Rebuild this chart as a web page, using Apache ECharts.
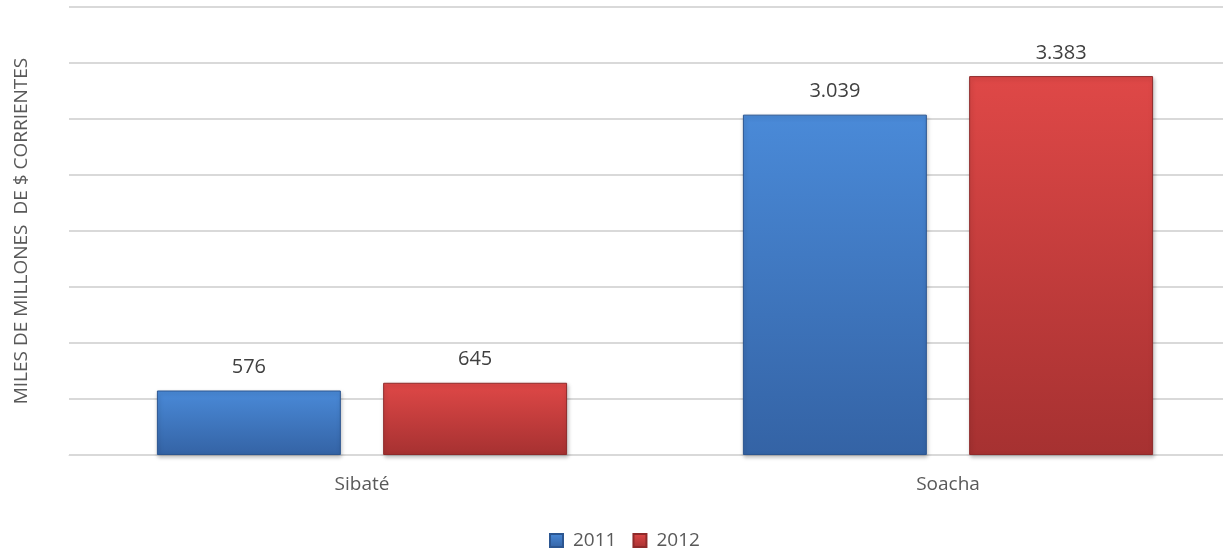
<!DOCTYPE html>
<html><head><meta charset="utf-8">
<script src="https://cdn.jsdelivr.net/npm/echarts@6/dist/echarts.min.js"></script>
<style>html,body{margin:0;padding:0;background:#fff}#c{width:1223px;height:550px}</style>
</head><body><div id="c"></div>
<script>
const categories = ['Sibaté', 'Soacha'];
const seriesNames = ['2011', '2012'];
const values2011 = [576, 3039];
const values2012 = [645, 3383];
const yAxisTitle = 'MILES DE MILLONES  DE $ CORRIENTES';

const fmt = v => v.toLocaleString('de-DE');
const grad = (a, b) => new echarts.graphic.LinearGradient(0, 0, 0, 1, [{offset: 0, color: a}, {offset: 1, color: b}]);
const font = '"Open Sans", "Noto Sans", sans-serif';

const chart = echarts.init(document.getElementById('c'), null, {renderer: 'canvas'});
function mk(name, data, c1, c2, border) {
  return {
    name, type: 'bar', data, barGap: '23%', barCategoryGap: '30%',
    itemStyle: {color: grad(c1, c2), borderColor: border, borderWidth: 1,
      shadowColor: 'rgba(0,0,0,0.25)', shadowBlur: 4, shadowOffsetX: 1, shadowOffsetY: 2},
    label: {show: true, position: 'top', distance: 13, formatter: p => fmt(p.value),
      color: '#404040', fontSize: 20, fontFamily: font}
  };
}
chart.setOption({
  animation: false,
  grid: {left: 69, top: 7, right: -18, bottom: 95, containLabel: false, outerBoundsMode: 'none'},
  legend: {bottom: -5, left: 544, itemWidth: 13, itemHeight: 13, itemGap: 16,
    icon: 'rect', textStyle: {color: '#595959', fontSize: 19, fontFamily: font, padding: [0, 0, 0, 5]}, data: seriesNames},
  xAxis: {type: 'category', data: categories,
    axisLine: {lineStyle: {color: '#d9d9d9', width: 1}}, axisTick: {show: false},
    axisLabel: {color: '#595959', fontSize: 19, fontFamily: font, margin: 20}},
  yAxis: {type: 'value', min: 0, max: 4000, interval: 500,
    axisLabel: {show: false}, axisLine: {show: false}, axisTick: {show: false},
    splitLine: {lineStyle: {color: '#d9d9d9', width: 2}},
    name: yAxisTitle, nameLocation: 'middle', nameGap: 38, nameRotate: 90,
    nameTextStyle: {color: '#595959', fontSize: 19, fontFamily: font}},
  series: [
    mk(seriesNames[0], values2011, '#4a8ad8', '#3463a5', '#2c5691'),
    mk(seriesNames[1], values2012, '#df4847', '#a63131', '#8f2a2a')
  ]
});
</script></body></html>
